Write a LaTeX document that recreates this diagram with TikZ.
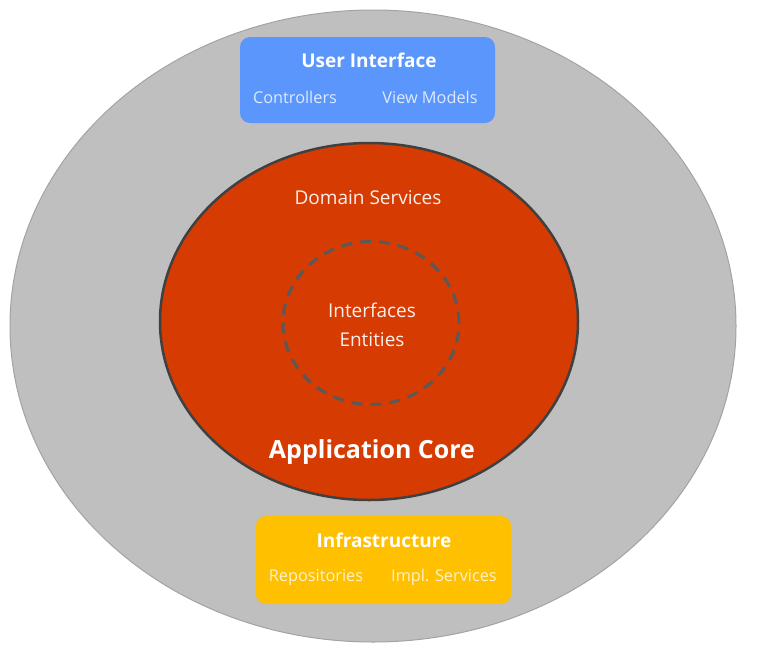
\documentclass[tikz,border=0pt]{standalone}
\usepackage{fontspec}
\setmainfont{Open Sans}
\usetikzlibrary{shapes.geometric, positioning}
\definecolor{shellgray}{HTML}{BFBFBF}
\definecolor{shelledge}{HTML}{A3A3A3}
\definecolor{uiblue}{HTML}{5A96FC}
\definecolor{infragold}{HTML}{FFC000}
\definecolor{corered}{HTML}{D63B01}
\definecolor{coreedge}{HTML}{404040}
\definecolor{dashgray}{HTML}{595959}

\begin{document}
\begin{tikzpicture}[x=1pt, y=-1pt, line width=1pt,
  layerbox/.style={rounded corners=10pt, minimum width=255pt, minimum height=86pt},
  boxtitle/.style={text=white, font=\fontsize{19}{22}\selectfont\bfseries},
  boxitem/.style={text=white, text opacity=0.8, font=\fontsize{16.3}{19}\selectfont},
  coretext/.style={text=white, text opacity=0.92, font=\fontsize{19}{22}\selectfont}]

\useasboundingbox (0,0) rectangle (760,651);

% Outer ring
\node[ellipse, draw=shelledge, fill=shellgray, minimum width=726pt, minimum height=632pt]
      (shell) at (373,326) {};

% Box 1: User Interface
\node[layerbox, fill=uiblue] (ui) at (367.5,80) {};
\node[boxtitle] (uititle) at (369,60) {User Interface};
\node[boxitem] (controllers) at (295,97) {Controllers};
\node[boxitem] (viewmodels) at (430,97) {View Models};

% Application core
\node[ellipse, draw=coreedge, line width=2.5pt, fill=corered,
      minimum width=418pt, minimum height=357pt] (core) at (369,321.5) {};
\node[coretext] (domain) at (368,198) {Domain Services};
\node[ellipse, draw=dashgray, line width=3pt, dash pattern=on 11pt off 8pt,
      minimum width=176pt, minimum height=163pt] (inner) at (371,323) {};
\node[coretext] (interfaces) at (372,310) {Interfaces};
\node[coretext] (entities) at (372,340) {Entities};
\node[text=white, font=\fontsize{25}{29}\selectfont\bfseries] (coretitle) at (372,452) {Application Core};

% Box 2: Infrastructure
\node[layerbox, fill=infragold, minimum height=88pt] (infra) at (383.5,560) {};
\node[boxtitle] (infratitle) at (384,540) {Infrastructure};
\node[boxitem] (repos) at (316,577) {Repositories};
\node[boxitem] (implsvc) at (444,577) {Impl. Services};

\end{tikzpicture}
\end{document}
